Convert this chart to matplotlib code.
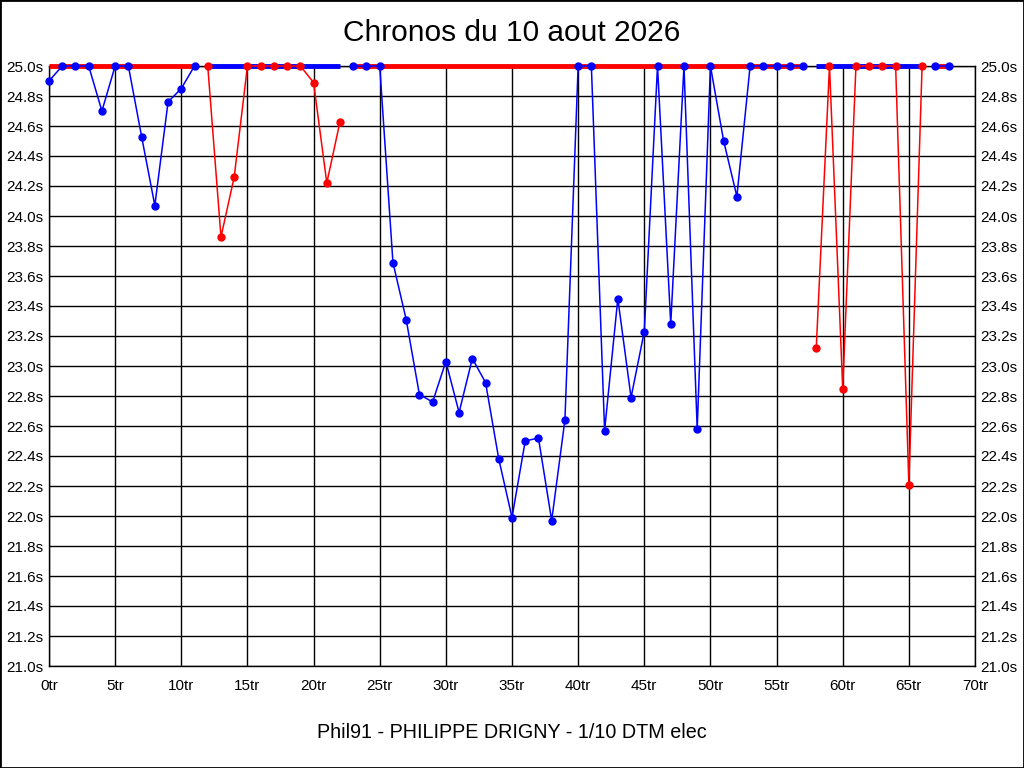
import matplotlib
matplotlib.use("Agg")
import matplotlib.pyplot as plt
from matplotlib.ticker import MultipleLocator, FuncFormatter
from matplotlib.patches import Rectangle

plt.rcParams['font.family'] = ['Liberation Sans', 'DejaVu Sans']

# lap times in seconds, laps above 25.0s are shown clipped at 25.0
laps = list(range(69))
times = [24.90, 25.0, 25.0, 25.0, 24.70, 25.0, 25.0, 24.53, 24.07, 24.76,
         24.85, 25.0, 25.0, 23.86, 24.26, 25.0, 25.0, 25.0, 25.0, 25.0,
         24.89, 24.22, 24.63, 25.0, 25.0, 25.0, 23.69, 23.31, 22.81, 22.76,
         23.03, 22.69, 23.05, 22.89, 22.38, 21.99, 22.50, 22.52, 21.97, 22.64,
         25.0, 25.0, 22.57, 23.45, 22.79, 23.23, 25.0, 23.28, 25.0, 22.58,
         25.0, 24.50, 24.13, 25.0, 25.0, 25.0, 25.0, 25.0, 23.12, 25.0,
         22.85, 25.0, 25.0, 25.0, 25.0, 22.21, 25.0, 25.0, 25.0]
# stints: first lap, last lap, colour
stint_start = [0, 12, 23, 58, 67]
stint_end = [11, 22, 57, 66, 68]
stint_color = ['blue', 'red', 'blue', 'red', 'blue']

title = "Chronos du 10 aout 2026"
caption = "Phil91 - PHILIPPE DRIGNY - 1/10 DTM elec"
y_min, y_max = 21.0, 25.0

fig = plt.figure(figsize=(10.24, 7.68), dpi=100)
ax = fig.add_axes([49/1024, 1-666/768, 926/1024, 600/768])
ax.set_xlim(0, 70)
ax.set_ylim(y_min, y_max)
ax.xaxis.set_major_locator(MultipleLocator(5))
ax.yaxis.set_major_locator(MultipleLocator(0.2))
ax.xaxis.set_major_formatter(FuncFormatter(lambda v, p: "%dtr" % round(v)))
ax.yaxis.set_major_formatter(FuncFormatter(lambda v, p: "%.1fs" % v))
ax.grid(which='major', color='black', linewidth=1, linestyle='-')
ax.set_axisbelow(True)
ax.tick_params(length=0, labelsize=11, pad=4, labelright=True, right=True)
ax.tick_params(axis='x', pad=9)
for s in ax.spines.values():
    s.set_linewidth(1)

for a, b, c in zip(stint_start, stint_end, stint_color):
    other = 'red' if c == 'blue' else 'blue'
    ax.hlines(y_max, a, b, color=other, linewidth=3.5, clip_on=False, zorder=3)
    xs = laps[a:b + 1]
    ys = times[a:b + 1]
    ax.plot(xs, ys, color=c, linewidth=1.1, zorder=4, clip_on=False)
    ax.plot(xs, ys, 'o', color=c, markersize=5, zorder=5, clip_on=False)

fig.text(0.5, 1-33/768, title, ha='center', va='center', fontsize=21.5)
fig.text(0.5, 1-733/768, caption, ha='center', va='center', fontsize=14.2)
fig.patches.append(Rectangle((0, 0), 1, 1, transform=fig.transFigure,
                             fill=False, edgecolor='black', linewidth=2))

fig.savefig('out.png', dpi=100)
